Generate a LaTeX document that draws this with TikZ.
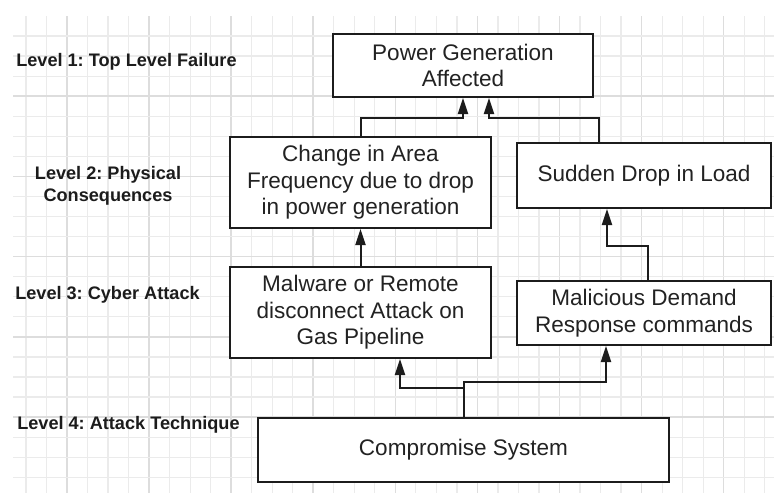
\documentclass[tikz,border=0pt]{standalone}
\usepackage{fontspec}
\setmainfont{Liberation Sans}
\usetikzlibrary{arrows.meta,calc}
\frenchspacing

\definecolor{gridminor}{HTML}{EBEBEB}
\definecolor{gridmajor}{HTML}{DDDDDD}
\definecolor{ink}{HTML}{1C1C1C}
\definecolor{txt}{HTML}{222222}

\tikzset{
  minorline/.style={draw=gridminor, line width=0.9pt},
  majorline/.style={draw=gridmajor, line width=1.2pt},
  box/.style={draw=ink, fill=white, line width=1.5pt, inner sep=2pt,
    align=center, text=txt, font=\fontsize{16.9}{20}\selectfont},
  levellabel/.style={inner sep=0pt, text=ink,
    font=\bfseries\fontsize{13.6}{16.5}\selectfont},
  arr/.style={draw=ink, line width=1.5pt,
    -{Triangle[width=7.5pt,length=12pt]}},
}

\begin{document}
\begin{tikzpicture}[x=0.75pt, y=-0.75pt]
\useasboundingbox (0,0) rectangle (774,493);
\fill[white] (0,0) rectangle (774,493);

% background grid, every fourth line slightly darker
\foreach \k in {0,...,36}{
  \pgfmathtruncatemacro\m{mod(\k,4)}
  \ifnum\m=2 \def\gs{majorline}\else\def\gs{minorline}\fi
  \draw[\gs] ({26+20.52*\k},16) -- ({26+20.52*\k},493);
}
\foreach \k in {0,...,22}{
  \pgfmathtruncatemacro\m{mod(\k,4)}
  \ifnum\m=3 \def\gs{majorline}\else\def\gs{minorline}\fi
  \draw[\gs] (13,{36+20.06*\k}) -- (774,{36+20.06*\k});
}

% level labels
\node[levellabel, anchor=west] (l1) at (16,62) {Level 1: Top Level Failure};
\node[levellabel, align=center] (l2) at (108,186) {Level 2: Physical\\Consequences};
\node[levellabel, anchor=west] (l3) at (15,295) {Level 3: Cyber Attack};
\node[levellabel, anchor=west] (l4) at (17,425) {Level 4: Attack Technique};

% tree boxes
\node[box, minimum width=195pt, minimum height=47.25pt] (pow) at (463,65.5)
  {Power Generation\\Affected};
\node[box, minimum width=195.75pt, minimum height=68.25pt] (chg) at (360.5,182.5)
  {Change in Area\\Frequency due to drop\\in power generation};
\node[box, minimum width=190.5pt, minimum height=48.75pt] (sud) at (644,175.5)
  {Sudden Drop in Load};
\node[box, minimum width=195.75pt, minimum height=68.25pt] (mal) at (360.5,312.5)
  {Malware or Remote\\disconnect Attack on\\Gas Pipeline};
\node[box, minimum width=190.5pt, minimum height=48pt] (mdr) at (644,313)
  {Malicious Demand\\Response commands};
\node[box, minimum width=308.25pt, minimum height=48pt] (cmp) at (463.5,450)
  {Compromise System};

% connectors
\draw[arr] (chg.north) |- ($(pow.south)+(0,20)$) -- (pow.south);
\draw[arr] ($(sud.north)+(-45,0)$) |- ($(pow.south)+(26,20)$) -- ($(pow.south)+(26,0)$);
\draw[arr] (mal.north) -- (chg.south);
\draw[arr] ($(mdr.north)+(4,0)$) |- ($(sud.south)+(-37,37)$) -- ($(sud.south)+(-37,0)$);
\draw[arr] (cmp.north) |- ($(mal.south)+(39.5,29)$) -- ($(mal.south)+(39.5,0)$);
\draw[arr] (cmp.north) |- ($(mdr.south)+(-38,36)$) -- ($(mdr.south)+(-38,0)$);
\end{tikzpicture}
\end{document}
